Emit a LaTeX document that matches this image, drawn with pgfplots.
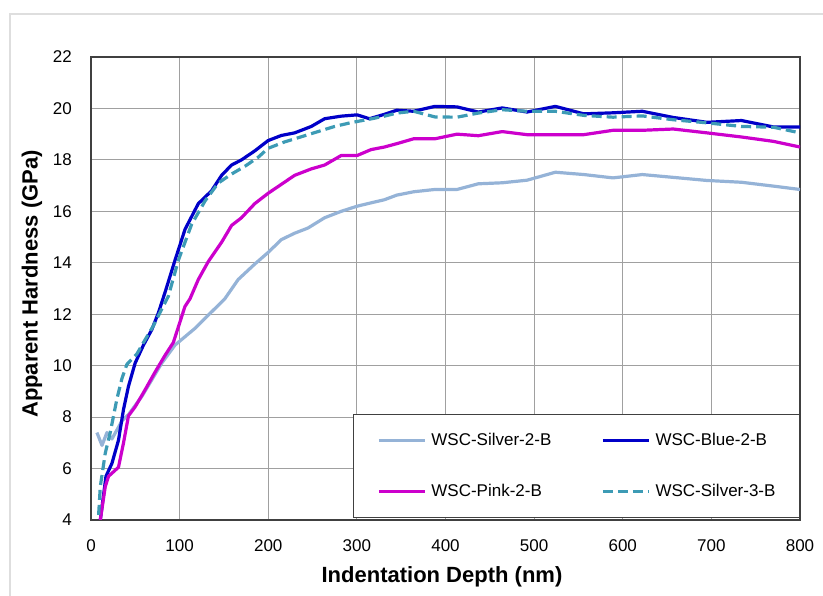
\documentclass[border=0pt]{standalone}
\usepackage{fontspec}
\setmainfont{Liberation Sans}
\usepackage{pgfplots}
\pgfplotsset{compat=1.18}
\definecolor{cSilverTwo}{HTML}{95B3D7}
\definecolor{cBlue}{HTML}{0000C8}
\definecolor{cPink}{HTML}{CC00CC}
\definecolor{cSilverThree}{HTML}{3D9BB5}
\definecolor{gridc}{HTML}{A0A0A0}
\definecolor{axisc}{HTML}{404040}
\begin{document}
\begin{tikzpicture}
\path[use as bounding box] (0,0) rectangle (823bp,596bp);
\draw[color=black!13, line width=1.5bp] (10bp,0bp) -- (10bp,582bp) -- (823bp,582bp);
\begin{axis}[
  at={(91bp,76bp)}, anchor=south west,
  scale only axis, width=709bp, height=463bp,
  xmin=0, xmax=800, ymin=4, ymax=22,
  xtick={0,100,...,800}, ytick={4,6,...,22},
  grid=major,
  major grid style={color=gridc, line width=1.2bp},
  axis line style={color=axisc, line width=1.5bp},
  major tick length=0pt,
  /pgf/number format/assume math mode=true,
  tick label style={font=\fontsize{17bp}{20bp}\selectfont, inner sep=0pt},
  yticklabel shift=19bp,
  xticklabel shift=19bp,
  xlabel={Indentation Depth (nm)},
  ylabel={Apparent Hardness (GPa)},
  every axis x label/.style={at={(axis description cs:0.495,-0.123)}, anchor=center, font=\bfseries\fontsize{22bp}{25bp}\selectfont},
  every axis y label/.style={at={(axis description cs:-0.0832,0.5097)}, anchor=center, rotate=90, font=\bfseries\fontsize{22bp}{25bp}\selectfont},
  legend columns=2,
  legend cell align=left,
  legend image code/.code={\draw[#1] (0bp,0bp) -- (46bp,0bp);},
  legend style={
    at={(axis description cs:1,0.0043)}, anchor=south east,
    draw=axisc, line width=1bp, fill=white,
    inner xsep=24bp, inner ysep=18bp,
    row sep=35bp,
    font=\fontsize{17bp}{20bp}\selectfont,
    nodes={inner sep=0pt, text height=12.5bp, text depth=3.5bp},
    /tikz/every odd column/.append style={column sep=5bp},
    /tikz/every even column/.append style={column sep=50bp},
  },
  every axis plot/.append style={line width=3.2bp, line join=round},
]
\addplot[color=cSilverTwo] coordinates {
(6.7,7.4) (12.4,6.9) (18,7.4) (23.6,7.15) (34.9,7.85) (42.3,8.1) (57.3,8.8) (79.9,10.1) (94.8,10.8) (117.3,11.45) (151,12.6) (166.1,13.35) (184.8,13.95) (199.8,14.4) (214.8,14.9) (229.8,15.15) (244.8,15.35) (263.6,15.75) (282.3,16.0) (300.3,16.2) (316,16.33) (331,16.45) (345,16.63) (364,16.76) (388,16.85) (413,16.85) (437,17.07) (464,17.11) (492,17.21) (524,17.52) (556,17.43) (589,17.3) (622,17.43) (657,17.32) (695,17.2) (734,17.13) (770,16.98) (800,16.85)
};
\addlegendentry{WSC-Silver-2-B}
\addplot[color=cBlue] coordinates {
(10.5,4.0) (16.9,5.7) (23.6,6.2) (31,7.1) (36.7,8.3) (42.3,9.2) (49.8,10.1) (59.2,10.8) (68.6,11.4) (76,12.05) (84,12.9) (94.8,14.1) (106.1,15.3) (121.1,16.3) (136.1,16.8) (147.4,17.4) (158.6,17.8) (169.8,18.0) (184.8,18.35) (199.8,18.75) (214.8,18.95) (229.8,19.05) (248.6,19.3) (263.6,19.6) (282.3,19.7) (300.3,19.75) (314.2,19.6) (331,19.77) (345,19.93) (364,19.89) (388,20.08) (413,20.06) (437,19.86) (464,20.02) (492,19.86) (524,20.08) (556,19.79) (589,19.83) (622,19.89) (657,19.65) (695,19.46) (734,19.53) (770,19.28) (800,19.28)
};
\addlegendentry{WSC-Blue-2-B}
\addplot[color=cPink] coordinates {
(10.5,4.0) (16.1,5.3) (19.8,5.7) (31,6.05) (36.7,7.0) (42.3,8.05) (49.8,8.4) (59.2,8.95) (72.3,9.75) (83.5,10.4) (92.9,10.9) (100.4,11.7) (106,12.3) (111.7,12.6) (121.1,13.35) (132.4,14.05) (147.4,14.8) (158.6,15.45) (169.8,15.75) (184.8,16.3) (199.8,16.7) (214.8,17.05) (229.8,17.4) (248.6,17.65) (263.6,17.8) (282.3,18.17) (300.3,18.17) (316,18.4) (331,18.5) (345,18.63) (364,18.82) (388,18.82) (413,19.0) (437,18.94) (464,19.1) (492,18.98) (524,18.98) (556,18.98) (589,19.15) (622,19.15) (657,19.2) (695,19.05) (734,18.89) (770,18.72) (800,18.5)
};
\addlegendentry{WSC-Pink-2-B}
\addplot[color=cSilverThree, dash pattern=on 10bp off 5bp] coordinates {
(8.6,4.2) (10.5,5.3) (16.1,6.6) (21.7,7.4) (29.2,8.7) (34.9,9.5) (40.5,10.05) (51.7,10.45) (59.2,10.9) (70.4,11.55) (79.8,12.2) (87.3,12.7) (98.6,14.1) (113.6,15.5) (128.6,16.4) (143.6,17.1) (158.6,17.45) (173.6,17.75) (188.6,18.1) (199.8,18.45) (218.6,18.7) (237.4,18.9) (256.1,19.1) (274.9,19.3) (293.6,19.45) (312.4,19.57) (331.2,19.7) (345,19.82) (364,19.89) (388,19.67) (413,19.66) (437,19.82) (464,19.95) (492,19.89) (524,19.89) (556,19.73) (589,19.66) (622,19.71) (657,19.56) (695,19.44) (734,19.3) (770,19.27) (800,19.05)
};
\addlegendentry{WSC-Silver-3-B}
\end{axis}
\end{tikzpicture}
\end{document}
